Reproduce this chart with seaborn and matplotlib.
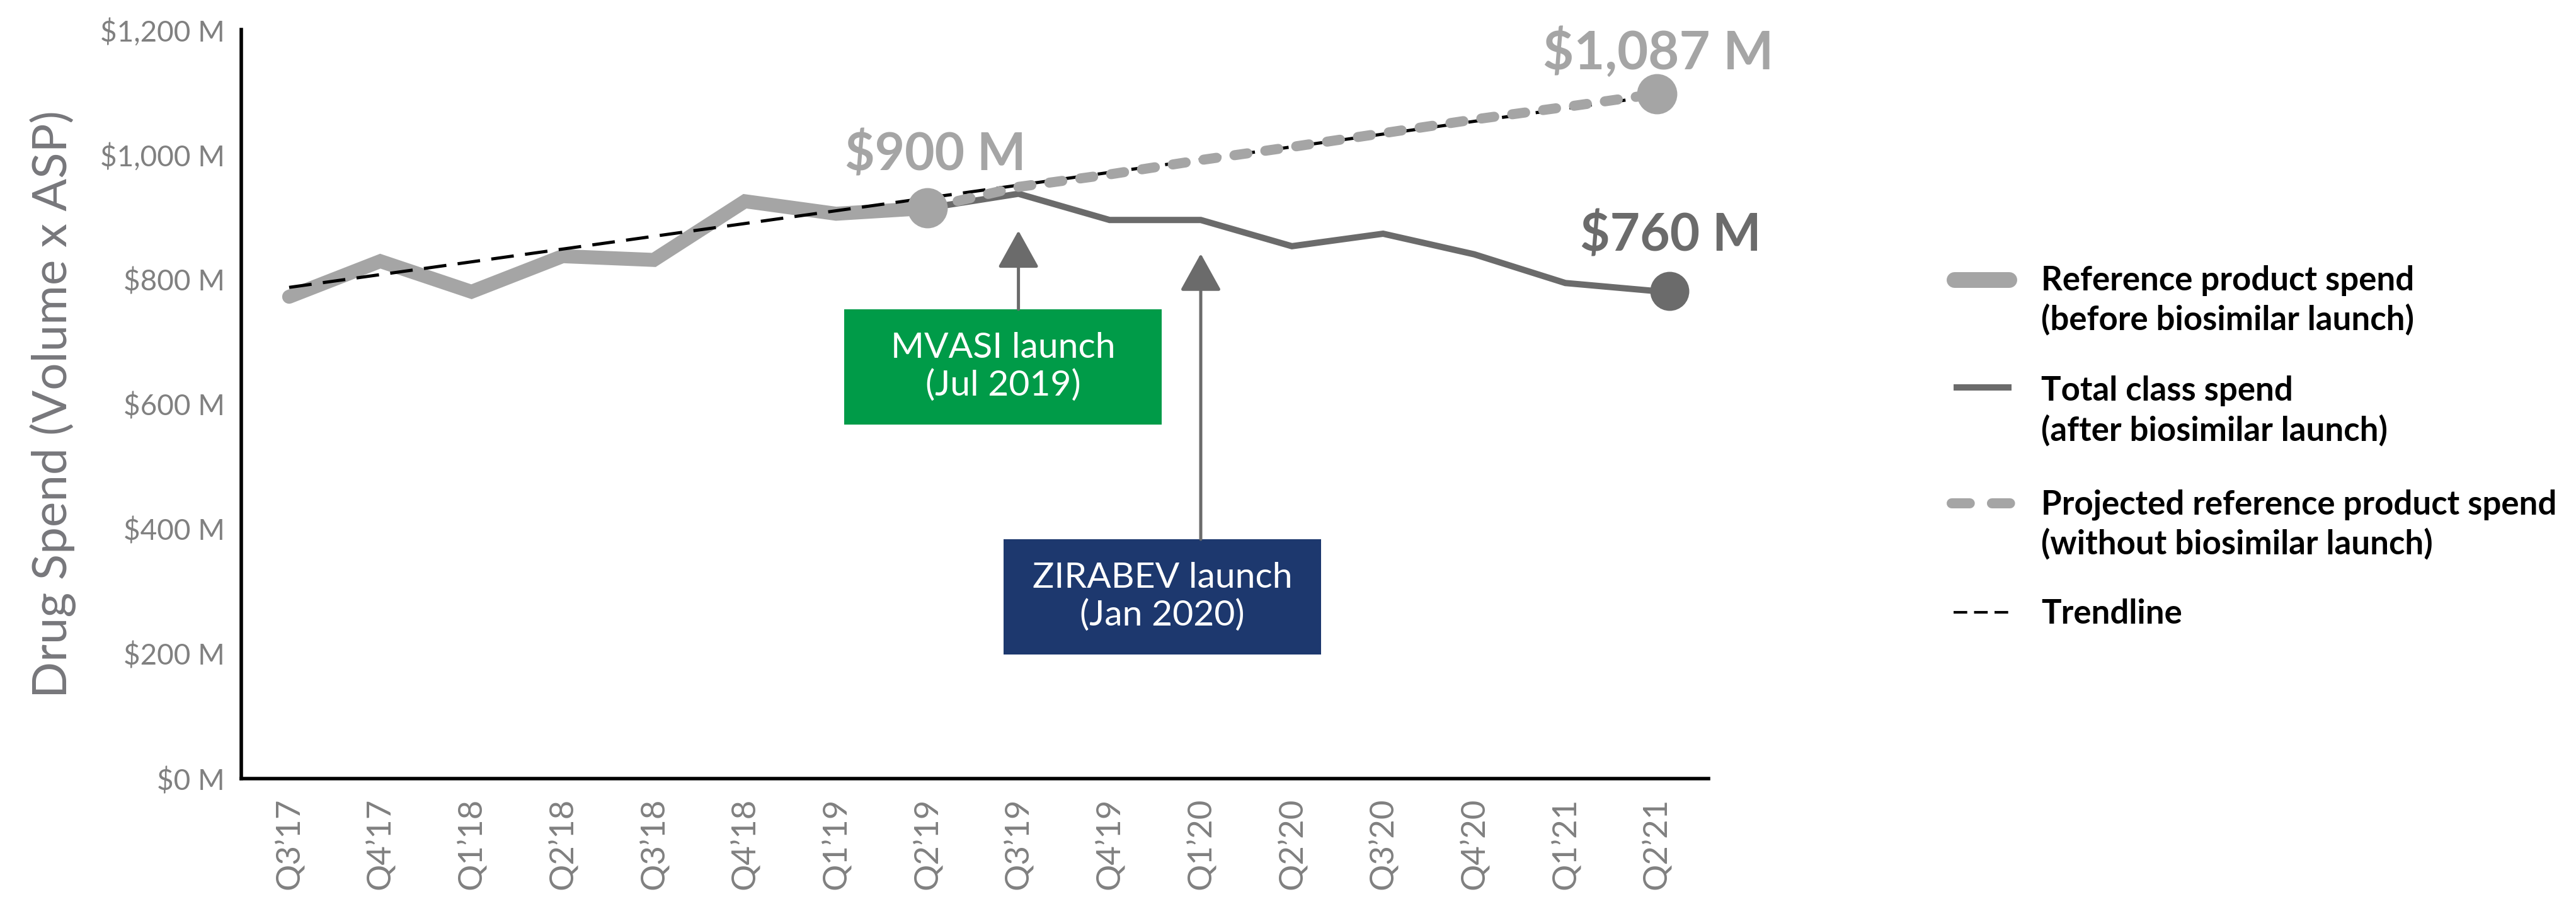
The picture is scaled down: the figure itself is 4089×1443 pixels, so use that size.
import numpy as np
import pandas as pd
import matplotlib
matplotlib.use("Agg")
import matplotlib.pyplot as plt
import matplotlib.transforms as mtransforms
from matplotlib.lines import Line2D
from matplotlib.patches import Rectangle
import seaborn as sns

# ---------------- data ----------------
quarters = ["Q3’17", "Q4’17", "Q1’18", "Q2’18", "Q3’18", "Q4’18", "Q1’19", "Q2’19",
            "Q3’19", "Q4’19", "Q1’20", "Q2’20", "Q3’20", "Q4’20", "Q1’21", "Q2’21"]
ref_quarters = quarters[:8]                       # before biosimilar launch
reference_spend = [772, 829, 780, 837, 831, 925, 905, 914]
after_quarters = quarters[7:]                     # after biosimilar launch
total_class_spend = [914, 937, 895, 895, 853, 873, 840, 794, 781]
projected_spend = [914, 948, 968, 991, 1012, 1034, 1056, 1076, 1097]
trend_quarters = ["Q3’17", "Q2’21"]
trend_values = [787, 1094]
y_ticks = [0, 200, 400, 600, 800, 1000, 1200]
y_tick_labels = [f"${v:,} M" for v in y_ticks]
label_ref_end = "$900 M"
label_proj_end = "$1,087 M"
label_total_end = "$760 M"
launch_labels = ["MVASI launch\n(Jul 2019)", "ZIRABEV launch\n(Jan 2020)"]
launch_quarters = ["Q3’19", "Q1’20"]
legend_labels = [["Reference product spend", "(before biosimilar launch)"],
                 ["Total class spend", "(after biosimilar launch)"],
                 ["Projected reference product spend", "(without biosimilar launch)"],
                 ["Trendline"]]

pos = {q: i for i, q in enumerate(quarters)}
df_ref = pd.DataFrame({"x": [pos[q] for q in ref_quarters], "y": reference_spend})
df_tot = pd.DataFrame({"x": [pos[q] for q in after_quarters], "y": total_class_spend})
df_proj = pd.DataFrame({"x": [pos[q] for q in after_quarters], "y": projected_spend})
df_trend = pd.DataFrame({"x": [pos[q] for q in trend_quarters], "y": trend_values})

# ---------------- style ----------------
sns.set_style("white")
plt.rcParams["font.family"] = ["Lato", "DejaVu Sans"]

LIGHT = "#A5A5A5"
DARK = "#6B6B6B"
TICK = "#808080"
YLAB = "#77777B"
GREEN = "#009B48"
NAVY = "#1D386E"

W, H = 4089, 1443
fig = plt.figure(figsize=(W / 100, H / 100), dpi=100)
ax = fig.add_axes([383 / W, 1 - 1236 / H, (2712 - 383) / W, (1236 - 47) / H])

# ---------------- lines ----------------
sns.lineplot(data=df_ref, x="x", y="y", ax=ax, color=LIGHT, linewidth=16,
             solid_capstyle="round", solid_joinstyle="miter", zorder=2)
sns.lineplot(data=df_tot, x="x", y="y", ax=ax, color=DARK, linewidth=7.2,
             solid_capstyle="butt", solid_joinstyle="miter", zorder=2.5)
sns.lineplot(data=df_trend, x="x", y="y", ax=ax, color="black", linewidth=3.6,
             linestyle=(0, (7.2, 3.6)), zorder=3)
sns.lineplot(data=df_proj, x="x", y="y", ax=ax, color=LIGHT, linewidth=11.5,
             linestyle=(0, (1.3, 1.8)), dash_capstyle="round", zorder=4)

# end markers
sns.scatterplot(x=[df_ref["x"].iloc[-1]], y=[df_ref["y"].iloc[-1]], ax=ax, s=2116,
                color=LIGHT, linewidth=0, zorder=5)
sns.scatterplot(x=[df_proj["x"].iloc[-1]], y=[df_proj["y"].iloc[-1]], ax=ax, s=2116,
                color=LIGHT, linewidth=0, zorder=5)
sns.scatterplot(x=[df_tot["x"].iloc[-1]], y=[df_tot["y"].iloc[-1]], ax=ax, s=1990,
                color=DARK, linewidth=0, zorder=5)
offset = mtransforms.ScaledTranslation(20 / 100, 0, fig.dpi_scale_trans)
ax.collections[-1].set_offset_transform(ax.transData + offset)

# value labels
ax.annotate(label_ref_end, xy=(df_ref["x"].iloc[-1], df_ref["y"].iloc[-1]),
            xytext=(9, 43), textcoords="offset points", ha="center", va="baseline",
            fontsize=59, fontweight="bold", color=LIGHT)
ax.annotate(label_proj_end, xy=(df_proj["x"].iloc[-1], df_proj["y"].iloc[-1]),
            xytext=(2, 28), textcoords="offset points", ha="center", va="baseline",
            fontsize=61, fontweight="bold", color=LIGHT)
ax.annotate(label_total_end, xy=(df_tot["x"].iloc[-1], df_tot["y"].iloc[-1]),
            xytext=(16, 46), textcoords="offset points", ha="center", va="baseline",
            fontsize=59, fontweight="bold", color=DARK)

# launch boxes + arrows
boxes = [(6.09, 567, 3.48, 185, GREEN, 878), (7.84, 199, 3.48, 184.5, NAVY, 841)]
for (bx, by, bw, bh, col, tip), txt, q in zip(boxes, launch_labels, launch_quarters):
    ax.add_patch(Rectangle((bx, by), bw, bh, facecolor=col, edgecolor="none", zorder=6))
    ax.text(bx + bw / 2, by + bh / 2, txt, ha="center", va="center", color="white",
            fontsize=41, linespacing=1.2, zorder=7)
    ax.annotate("", xy=(pos[q], tip), xytext=(pos[q], by + bh),
                arrowprops=dict(arrowstyle="-|>,head_length=37,head_width=20.5",
                                mutation_scale=1, color=DARK, lw=3.6,
                                shrinkA=0, shrinkB=0), zorder=6)

# ---------------- axes ----------------
ax.set_xlim(-0.525, 15.57)
ax.set_ylim(0, 1200)
ax.set_xticks(range(len(quarters)))
ax.set_xticklabels(quarters, rotation=90, fontsize=38, color=TICK)
ax.set_yticks(y_ticks)
ax.set_yticklabels(y_tick_labels, fontsize=33, color=TICK)
ax.tick_params(axis="x", length=0, pad=22)
ax.tick_params(axis="y", length=0, pad=19)
ax.set_xlabel("")
ax.set_ylabel("Drug Spend (Volume x ASP)", fontsize=55, color=YLAB, va="center")
ax.yaxis.set_label_coords((84 - 383) / (2712 - 383), 0.5)
for s in ["top", "right"]:
    ax.spines[s].set_visible(False)
for s in ["left", "bottom"]:
    ax.spines[s].set_color("black")
    ax.spines[s].set_linewidth(4)
ax.grid(False)

# ---------------- legend (manual) ----------------
def fx(px):
    return px / W

def fy(py):
    return 1 - py / H

handles = [
    dict(x=(3102, 3189), y=444, color=LIGHT, lw=18, ls="-", cap="round"),
    dict(x=(3101, 3193), y=615, color=DARK, lw=7.2, ls="-", cap="butt"),
    dict(x=(3098, 3193), y=799, color=LIGHT, lw=11.5, ls=(0, (1.8, 2.2)), cap="round"),
    dict(x=(3101, 3190), y=972, color="black", lw=3.0, ls=(0, (5.2, 2.6)), cap="butt"),
]
baselines = [[461, 524], [636, 699], [816, 879], [990]]
for h, lines, bls in zip(handles, legend_labels, baselines):
    ln = Line2D([fx(h["x"][0]), fx(h["x"][1])], [fy(h["y"]), fy(h["y"])],
                transform=fig.transFigure, color=h["color"], linewidth=h["lw"],
                linestyle=h["ls"], solid_capstyle=h["cap"], dash_capstyle=h["cap"])
    fig.add_artist(ln)
    for t, b in zip(lines, bls):
        fig.text(fx(3240), fy(b), t, ha="left", va="baseline", fontsize=38,
                 fontweight="bold", color="black")

fig.savefig("out.png", dpi=100, facecolor="white")
